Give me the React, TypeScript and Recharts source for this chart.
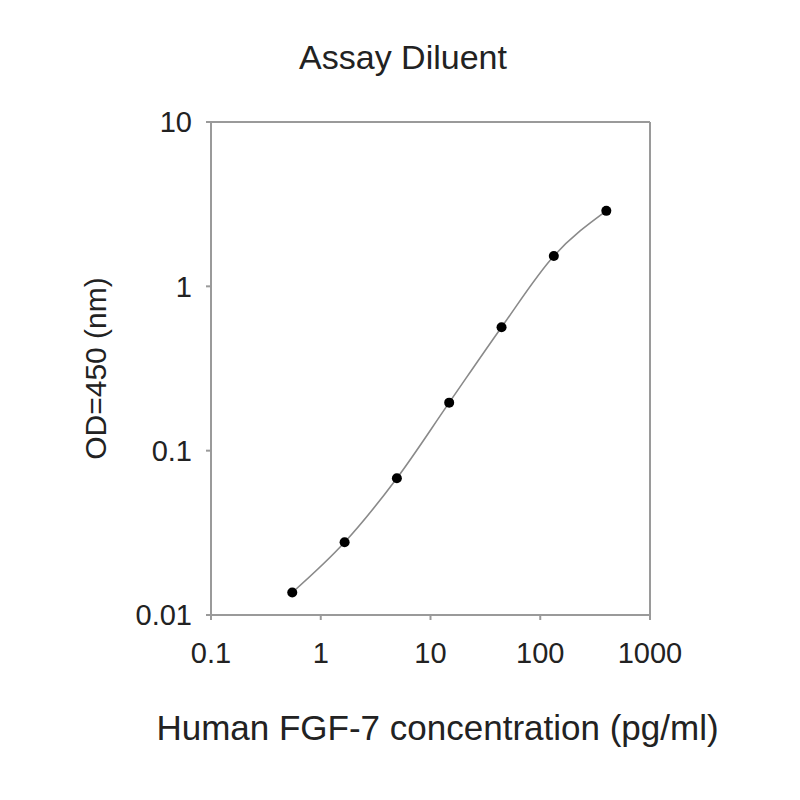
import React from "react";
import { LineChart, Line, XAxis, YAxis, ReferenceLine } from "recharts";

const concentrations = [0.55, 1.65, 4.94, 14.8, 44.4, 133, 400];
const odValues = [0.0137, 0.0277, 0.068, 0.196, 0.564, 1.53, 2.88];
const xTicks = [0.1, 1, 10, 100, 1000];
const yTicks = [0.01, 0.1, 1, 10];

const data = concentrations.map((c, i) => ({ x: c, y: odValues[i] }));

const FONT = '"Liberation Sans", Arial, Helvetica, sans-serif';
const AXIS = "#9a9a9a";
const TEXT = "#222";

export default function App() {
  return (
    <div style={{ position: "absolute", left: 0, top: 0, width: 800, height: 800, background: "#fff" }}>
      <div
        style={{
          position: "absolute",
          left: 203,
          width: 400,
          top: 40,
          textAlign: "center",
          fontFamily: FONT,
          fontSize: 34,
          lineHeight: "34px",
          color: TEXT,
        }}
      >
        Assay Diluent
      </div>
      <LineChart
        width={800}
        height={800}
        data={data}
        margin={{ top: 122, right: 150, bottom: 125, left: 131 }}
      >
        <XAxis
          dataKey="x"
          type="number"
          scale="log"
          domain={[0.1, 1000]}
          ticks={xTicks}
          allowDataOverflow
          stroke={AXIS}
          strokeWidth={2}
          tickSize={5}
          tickMargin={22}
          height={60}
          tick={{ fill: TEXT, fontSize: 29, fontFamily: FONT }}
          tickFormatter={(v: number) => String(v)}
          label={{
            value: "Human FGF-7 concentration (pg/ml)",
            position: "bottom",
            offset: 40,
            dx: 7,
            style: { fill: TEXT, fontSize: 35, fontFamily: FONT },
          }}
        />
        <YAxis
          dataKey="y"
          type="number"
          scale="log"
          domain={[0.01, 10]}
          ticks={yTicks}
          allowDataOverflow
          stroke={AXIS}
          strokeWidth={2}
          tickSize={5}
          tickMargin={14}
          width={80}
          tick={{ fill: TEXT, fontSize: 29, fontFamily: FONT }}
          tickFormatter={(v: number) => String(v)}
          label={{
            value: "OD=450 (nm)",
            angle: -90,
            position: "insideLeft",
            offset: 0,
            dx: -36,
            style: { fill: TEXT, fontSize: 30, fontFamily: FONT, textAnchor: "middle" },
          }}
        />
        <ReferenceLine y={10} stroke={AXIS} strokeWidth={2} />
        <ReferenceLine x={1000} stroke={AXIS} strokeWidth={2} />
        <Line
          dataKey="y"
          type="monotone"
          stroke="#8a8a8a"
          strokeWidth={1.6}
          dot={{ r: 5, fill: "#000", stroke: "#000", strokeWidth: 0 }}
          activeDot={false}
          isAnimationActive={false}
        />
      </LineChart>
    </div>
  );
}
